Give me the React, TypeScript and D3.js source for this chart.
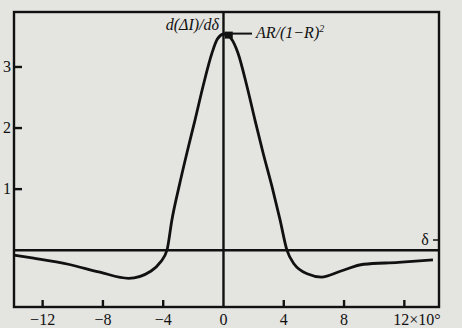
import React from "react";
import * as d3 from "d3";

const W = 462;
const H = 328;

// curve samples (delta, d(ΔI)/dδ)
const deltaValues = [-13.9, -12.6, -10.3, -8.2, -6.3, -4.8, -4.2, -3.75, -3.42, -2.95, -2.42, -1.89, -1.36, -0.76, -0.4, 0.05, 0.5, 0.96, 1.56, 2.09, 2.62, 3.22, 3.75, 4.21, 4.7, 5.6, 6.5, 7.8, 9.3, 11.6, 13.9];
const curveValues = [-0.08, -0.13, -0.23, -0.36, -0.46, -0.34, -0.2, 0.0, 0.5, 1.04, 1.6, 2.13, 2.68, 3.23, 3.46, 3.54, 3.47, 3.23, 2.68, 2.13, 1.6, 1.04, 0.5, 0.0, -0.23, -0.39, -0.44, -0.34, -0.23, -0.2, -0.16];

const xTicks = [-12, -8, -4, 4, 8, 12];
const xTickLabels = ["−12", "−8", "−4", "4", "8", "12"];
const yTicks = [1, 2, 3];
const peakDelta = 0.35;
const peakValue = 3.53;

export default function App() {
  const x = d3.scaleLinear().domain([-13.9, 14.3]).range([14, 439]);
  const y = d3.scaleLinear().domain([-0.93, 3.9]).range([307, 12]);
  const pts: [number, number][] = deltaValues.map((d, i) => [d, curveValues[i]]);
  const line = d3
    .line<[number, number]>()
    .x((d) => x(d[0]))
    .y((d) => y(d[1]))
    .curve(d3.curveMonotoneX);
  const serif = "'Liberation Serif', 'DejaVu Serif', serif";
  const px = x(peakDelta);
  const py = y(peakValue);
  return (
    <svg
      width={W}
      height={H}
      style={{ position: "absolute", left: 0, top: 0, background: "#e4e4e0" }}
      fontFamily={serif}
    >
      <rect x={0} y={0} width={W} height={H} fill="#e4e4e0" />
      {/* frame */}
      <rect x={14} y={12} width={425} height={295} fill="none" stroke="#111" strokeWidth={2.4} />
      {/* axes */}
      <line x1={x(0)} x2={x(0)} y1={12} y2={307} stroke="#111" strokeWidth={2.4} />
      <line x1={14} x2={439} y1={y(0)} y2={y(0)} stroke="#111" strokeWidth={2.4} />
      {/* y ticks */}
      {yTicks.map((t) => (
        <g key={t}>
          <line x1={14} x2={22} y1={y(t)} y2={y(t)} stroke="#111" strokeWidth={2.4} />
          <text x={7} y={y(t) + 5} fontSize={16} textAnchor="middle" fill="#111">
            {t}
          </text>
        </g>
      ))}
      {/* x ticks */}
      {xTicks.map((t, i) => (
        <g key={t}>
          <line x1={x(t)} x2={x(t)} y1={307} y2={300} stroke="#111" strokeWidth={2.4} />
          <text
            x={i === xTicks.length - 1 ? x(t) - 11 : x(t)}
            y={325}
            fontSize={16}
            textAnchor={i === xTicks.length - 1 ? "start" : "middle"}
            fill="#111"
          >
            {i === xTicks.length - 1 ? "12×10°" : xTickLabels[i]}
          </text>
        </g>
      ))}
      <text x={x(0)} y={325} fontSize={16} textAnchor="middle" fill="#111">
        0
      </text>
      {/* curve */}
      <path d={line(pts) || ""} fill="none" stroke="#111" strokeWidth={2.8} />
      {/* peak marker & labels */}
      <rect x={px - 4} y={py - 3} width={8} height={7} fill="#111" />
      <line x1={px} x2={252} y1={py - 1} y2={py - 1} stroke="#111" strokeWidth={2} />
      <text x={219} y={30} fontSize={16} textAnchor="end" fontStyle="italic" fill="#111">
        d(ΔI)/dδ
      </text>
      <text x={256} y={38} fontSize={16} fontStyle="italic" fill="#111">
        AR/(1−R)
        <tspan dy={-6} fontSize={10}>
          2
        </tspan>
      </text>
      {/* delta label */}
      <line x1={433} x2={439} y1={240} y2={240} stroke="#111" strokeWidth={1.5} />
      <text x={425} y={245} fontSize={16} textAnchor="middle" fill="#111">
        δ
      </text>
    </svg>
  );
}
